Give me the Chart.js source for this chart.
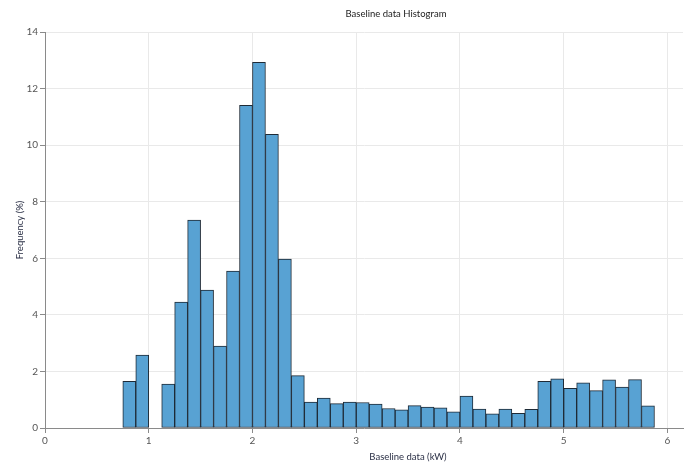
<!DOCTYPE html>
<html>
<head>
<meta charset="utf-8">
<script src="https://cdn.jsdelivr.net/npm/chart.js@4/dist/chart.umd.min.js"></script>
<style>
    html, body { margin: 0; padding: 0; background: #fff; }
    #wrap { width: 690px; height: 463px; }
</style>
</head>
<body>
<div id="wrap"><canvas id="chart"></canvas></div>
<script>
// histogram bins (lower edge, kW) and frequency (%)
var binWidth = 0.125;
var binEdges = [0, 0.125, 0.25, 0.375, 0.5, 0.625, 0.75, 0.875, 1.0, 1.125, 1.25, 1.375,
    1.5, 1.625, 1.75, 1.875, 2.0, 2.125, 2.25, 2.375, 2.5, 2.625, 2.75, 2.875,
    3.0, 3.125, 3.25, 3.375, 3.5, 3.625, 3.75, 3.875, 4.0, 4.125, 4.25, 4.375,
    4.5, 4.625, 4.75, 4.875, 5.0, 5.125, 5.25, 5.375, 5.5, 5.625, 5.75, 5.875, 6.0];
var frequency = [0, 0, 0, 0, 0, 0, 1.65, 2.58, 0, 1.55, 4.45, 7.35,
    4.88, 2.9, 5.55, 11.41, 12.93, 10.38, 5.97, 1.85, 0.92, 1.06, 0.86, 0.92,
    0.9, 0.85, 0.69, 0.64, 0.79, 0.74, 0.71, 0.57, 1.13, 0.67, 0.5, 0.67,
    0.52, 0.66, 1.65, 1.74, 1.4, 1.6, 1.32, 1.7, 1.45, 1.71, 0.78, 0, 0];
var xTicks = [0, 1, 2, 3, 4, 5, 6];
var yTicks = [0, 2, 4, 6, 8, 10, 12, 14];

var chartTitle = 'Baseline data Histogram';
var xTitle = 'Baseline data (kW)';
var yTitle = 'Frequency (%)';
var fontFamily = 'Lato, "Noto Sans", sans-serif';

var points = binEdges.map(function (e, i) {
    return { x: e + binWidth / 2, y: frequency[i] };
});

// title + x axis title drawn by hand (they sit right of centre in the original)
var textPlugin = {
    id: 'extraText',
    afterDraw: function (chart) {
        var ctx = chart.ctx;
        ctx.save();
        ctx.textAlign = 'center';
        ctx.textBaseline = 'middle';
        ctx.fillStyle = '#222';
        ctx.font = '9.5px ' + fontFamily;
        ctx.fillText(chartTitle, 396, 14);
        ctx.fillStyle = '#2a2f45';
        ctx.fillText(xTitle, 408, 457);
        ctx.restore();
    }
};

var ctx = document.getElementById('chart');
var myChart = new Chart(ctx, {
    type: 'bar',
    data: {
        datasets: [{
            label: yTitle,
            data: points,
            backgroundColor: '#58a2d3',
            borderColor: '#1e2a36',
            borderWidth: 1,
            barPercentage: 1,
            categoryPercentage: 1,
            borderSkipped: false
        }]
    },
    options: {
        responsive: true,
        maintainAspectRatio: false,
        animation: false,
        layout: { padding: { left: 0, right: 7, top: 32, bottom: 0 } },
        plugins: {
            legend: { display: false },
            tooltip: { enabled: false },
            title: { display: false }
        },
        scales: {
            x: {
                type: 'linear',
                min: 0,
                max: 6.15,
                offset: false,
                afterFit: function (scale) { scale.height = 35; },
                afterBuildTicks: function (scale) {
                    scale.ticks = xTicks.map(function (v) { return { value: v }; });
                },
                ticks: {
                    color: '#555',
                    font: { family: fontFamily, size: 10 },
                    padding: 2,
                    maxRotation: 0
                },
                grid: { color: '#e9e9e9', tickColor: '#8a8a8a', tickLength: 5, offset: false },
                border: { color: '#8a8a8a', width: 1 }
            },
            y: {
                min: 0,
                max: 14,
                afterFit: function (scale) { scale.width = 45; },
                afterBuildTicks: function (scale) {
                    scale.ticks = yTicks.map(function (v) { return { value: v }; });
                },
                ticks: {
                    color: '#555',
                    font: { family: fontFamily, size: 10 },
                    padding: 2
                },
                grid: { color: '#e9e9e9', tickColor: '#8a8a8a', tickLength: 5 },
                border: { color: '#8a8a8a', width: 1 },
                title: {
                    display: true,
                    text: yTitle,
                    color: '#2a2f45',
                    font: { family: fontFamily, size: 9.5 },
                    padding: { top: 14, bottom: 0 }
                }
            }
        }
    },
    plugins: [textPlugin]
});
</script>
</body>
</html>
